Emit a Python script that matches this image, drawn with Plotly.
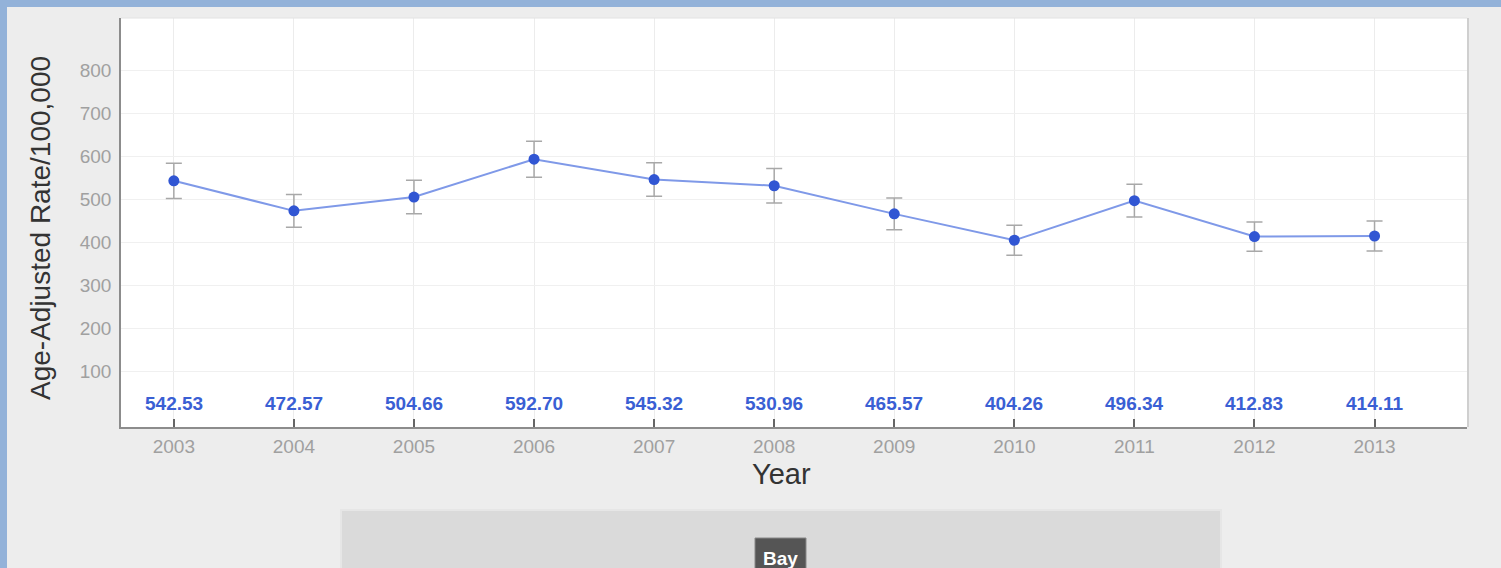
import plotly.graph_objects as go

years = [2003, 2004, 2005, 2006, 2007, 2008, 2009, 2010, 2011, 2012, 2013]
rates = [542.53, 472.57, 504.66, 592.70, 545.32, 530.96, 465.57, 404.26, 496.34, 412.83, 414.11]
ci_half = [41, 38, 39, 42, 39, 40, 37, 35, 38, 34, 35]
y_ticks = [100, 200, 300, 400, 500, 600, 700, 800]
region_label = "Bay"
x_title = "Year"
y_title = "Age-Adjusted Rate/100,000"

W, H = 1501, 568
L, R, T, B = 121, 1467, 18, 427
FONT = "Liberation Sans, Arial"


def px(x):
    return (x - L) / (R - L)


def py(y):
    return (B - y) / (B - T)


fig = go.Figure()
fig.add_trace(go.Scatter(
    x=years, y=rates, mode="lines+markers",
    line=dict(color="#7f99e8", width=2),
    marker=dict(color="#3156d3", size=11),
    error_y=dict(type="data", array=ci_half, visible=True,
                 color="#a8a8a8", thickness=1.5, width=8),
    hoverinfo="x+y", showlegend=False,
))

for yr, v in zip(years, rates):
    fig.add_annotation(x=yr, y=25, text=f"{v:.2f}", showarrow=False,
                       font=dict(family=FONT, size=19, color="#3a5fd4", weight="bold"),
                       xanchor="center", yanchor="middle")

fig.add_annotation(xref="paper", yref="paper", x=px(781), y=py(474), text=x_title,
                   showarrow=False, font=dict(family=FONT, size=29, color="#333333"),
                   xanchor="center", yanchor="middle")
fig.add_annotation(xref="paper", yref="paper", x=px(40), y=py(228), text=y_title,
                   textangle=-90, showarrow=False,
                   font=dict(family=FONT, size=28, color="#333333"),
                   xanchor="center", yanchor="middle")

shapes = [
    # blue frame
    dict(type="rect", xref="paper", yref="paper", x0=px(0), x1=px(W), y0=py(0), y1=py(7),
         fillcolor="#93b2d9", line=dict(width=0), layer="above"),
    dict(type="rect", xref="paper", yref="paper", x0=px(0), x1=px(7), y0=py(0), y1=py(H),
         fillcolor="#93b2d9", line=dict(width=0), layer="above"),
    # right shadow of plot
    dict(type="line", xref="paper", yref="paper", x0=px(R + 1), x1=px(R + 1), y0=py(T), y1=py(B),
         line=dict(color="#cfcfcf", width=2)),
    # top light border
    dict(type="line", xref="paper", yref="paper", x0=0, x1=1, y0=1, y1=1,
         line=dict(color="#e2e2e2", width=1)),
    # bottom panel
    dict(type="rect", xref="paper", yref="paper", x0=px(341), x1=px(1221), y0=py(510), y1=py(575),
         fillcolor="#dadada", line=dict(color="#e6e6e6", width=2)),
    dict(type="rect", xref="paper", yref="paper", x0=px(755), x1=px(806), y0=py(538), y1=py(575),
         fillcolor="#555555", line=dict(color="#888888", width=1)),
]
fig.add_annotation(xref="paper", yref="paper", x=px(780.5), y=py(558), text=region_label,
                   showarrow=False, font=dict(family=FONT, size=19, color="white", weight="bold"),
                   xanchor="center", yanchor="middle")

fig.update_layout(
    width=W, height=H,
    margin=dict(l=L, r=W - R, t=T, b=H - B, pad=0),
    paper_bgcolor="#ededed", plot_bgcolor="#ffffff",
    font=dict(family=FONT, color="#a0a0a0"),
    shapes=shapes,
    xaxis=dict(
        range=[2002.56, 2013.77], tickvals=years, ticktext=[str(y) for y in years],
        showgrid=True, gridcolor="#ececec", gridwidth=1,
        showline=True, linecolor="#8c8c8c", linewidth=1.5,
        ticks="inside", ticklen=8, tickcolor="#666666", tickwidth=1.5,
        tickfont=dict(size=19, color="#a0a0a0"), zeroline=False,
        ticklabelstandoff=1,
        fixedrange=True,
    ),
    yaxis=dict(
        range=[-30, 921], tickvals=y_ticks,
        showgrid=True, gridcolor="#f0f0f0", gridwidth=1,
        showline=True, linecolor="#8c8c8c", linewidth=1.5,
        ticks="", tickfont=dict(size=19, color="#a0a0a0"), zeroline=False,
        ticklabelstandoff=4,
        fixedrange=True,
    ),
)

fig.write_html("out.html")
